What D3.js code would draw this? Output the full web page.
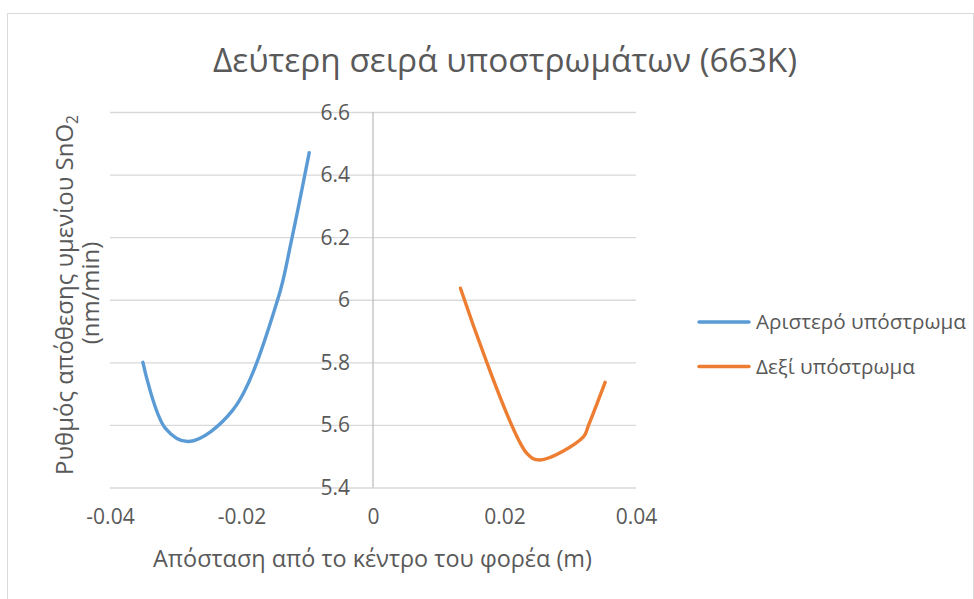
<!DOCTYPE html>
<html>
<head>
<meta charset="utf-8">
<script src="https://cdn.jsdelivr.net/npm/d3@7"></script>
<style>
  html, body { margin: 0; padding: 0; background: #ffffff; }
  svg text { font-family: "Open Sans", "Noto Sans", "DejaVu Sans", sans-serif; fill: #595959; }
</style>
</head>
<body>
<svg id="chart" width="974" height="599"></svg>
<script>
// Series: distance from the carrier centre (m) and SnO2 film deposition rate (nm/min)
const leftX  = [-0.0350, -0.0316, -0.0280, -0.0213, -0.0145, -0.0124, -0.0097];
const leftY  = [5.800, 5.590, 5.547, 5.648, 6.000, 6.190, 6.470];
const rightX = [0.0133, 0.0234, 0.0254, 0.0320, 0.0328, 0.0353];
const rightY = [6.037, 5.509, 5.488, 5.562, 5.600, 5.736];

const seriesNames = ["Αριστερό υπόστρωμα", "Δεξί υπόστρωμα"];
const seriesColors = ["#5b9bd5", "#ed7d31"];

const xTicks = [-0.04, -0.02, 0, 0.02, 0.04];
const xTickLabels = ["-0.04", "-0.02", "0", "0.02", "0.04"];
const yTicks = [5.4, 5.6, 5.8, 6.0, 6.2, 6.4, 6.6];
const yTickLabels = ["5.4", "5.6", "5.8", "6", "6.2", "6.4", "6.6"];

const titleText = "Δεύτερη σειρά υποστρωμάτων (663K)";
const xTitle = "Απόσταση από το κέντρο του φορέα (m)";
const yTitleLine1 = "Ρυθμός απόθεσης υμενίου SnO";
const yTitleSub = "2";
const yTitleLine2 = "(nm/min)";

const svg = d3.select("#chart");

// scale a text element's font so that it spans the wanted width
function fitWidth(sel, width) {
  const node = sel.node();
  const fs = parseFloat(sel.style("font-size"));
  const w = node.getComputedTextLength();
  sel.style("font-size", (fs * width / w).toFixed(2) + "px");
  return sel;
}

// outer chart frame
svg.append("rect")
  .attr("x", 7.5).attr("y", 13.5)
  .attr("width", 966).attr("height", 620)
  .attr("fill", "none").attr("stroke", "#d9d9d9").attr("stroke-width", 1);

const x = d3.scaleLinear().domain([-0.04, 0.04]).range([110, 636]);
const y = d3.scaleLinear().domain([5.4, 6.6]).range([487.5, 112]);

// horizontal gridlines
const yAxis = d3.axisLeft(y)
  .tickValues(yTicks)
  .tickSize(-(x.range()[1] - x.range()[0]))
  .tickFormat("");
const gGrid = svg.append("g").attr("transform", `translate(${x.range()[0]},0)`).call(yAxis);
gGrid.select(".domain").remove();
gGrid.selectAll(".tick line").attr("stroke", "#d9d9d9").attr("stroke-width", 1.3);

// vertical value axis at x = 0
svg.append("line")
  .attr("x1", x(0)).attr("x2", x(0))
  .attr("y1", y(6.6)).attr("y2", y(5.4))
  .attr("stroke", "#bfbfbf").attr("stroke-width", 1.3);

// y tick labels, placed next to the axis at x = 0
svg.append("g").selectAll("text")
  .data(yTicks)
  .join("text")
  .attr("x", x(0) - 23)
  .attr("y", d => y(d))
  .attr("dy", "0.36em")
  .attr("text-anchor", "end")
  .style("font-size", "21px")
  .text((d, i) => yTickLabels[i]);

// x tick labels along the bottom
const xAxis = d3.axisBottom(x)
  .tickValues(xTicks)
  .tickSize(0)
  .tickPadding(22)
  .tickFormat((d, i) => xTickLabels[i]);
const gX = svg.append("g").attr("transform", `translate(0,${y(5.4)})`).call(xAxis);
gX.attr("font-size", null).attr("font-family", null);
gX.select(".domain").remove();
gX.selectAll("text")
  .style("font-size", "21px")
  .attr("fill", "#595959");

// data lines (smoothed)
const line = d3.line()
  .x(d => x(d[0]))
  .y(d => y(d[1]))
  .curve(d3.curveCatmullRom.alpha(0.5));

const series = [
  d3.zip(leftX, leftY),
  d3.zip(rightX, rightY)
];

svg.append("g").selectAll("path")
  .data(series)
  .join("path")
  .attr("d", line)
  .attr("fill", "none")
  .attr("stroke", (d, i) => seriesColors[i])
  .attr("stroke-width", 3.4)
  .attr("stroke-linecap", "round")
  .attr("stroke-linejoin", "round");

// title
fitWidth(svg.append("text")
  .attr("x", 505).attr("y", 72)
  .attr("text-anchor", "middle")
  .style("font-size", "28px")
  .text(titleText), 584);

// x axis title
fitWidth(svg.append("text")
  .attr("x", 372.5).attr("y", 566.5)
  .attr("text-anchor", "middle")
  .style("font-size", "20px")
  .text(xTitle), 439);

// y axis title, two rotated lines
const yt1 = svg.append("text")
  .attr("transform", "translate(73,295) rotate(-90)")
  .attr("text-anchor", "middle")
  .style("font-size", "20px");
yt1.append("tspan").text(yTitleLine1);
yt1.append("tspan").attr("dy", "0.3em").style("font-size", "13px").text(yTitleSub);
const yScaleFactor = 360 / yt1.node().getComputedTextLength();
yt1.style("font-size", (20 * yScaleFactor).toFixed(2) + "px");
yt1.select("tspan:nth-child(2)").style("font-size", (13 * yScaleFactor).toFixed(2) + "px");
svg.append("text")
  .attr("transform", "translate(99,293) rotate(-90)")
  .attr("text-anchor", "middle")
  .style("font-size", (20 * yScaleFactor).toFixed(2) + "px")
  .text(yTitleLine2);

// legend
const legendY = [322, 366.5];
const legendW = [210, 159];
const lg = svg.append("g");
seriesNames.forEach((name, i) => {
  lg.append("line")
    .attr("x1", 699).attr("x2", 749)
    .attr("y1", legendY[i]).attr("y2", legendY[i])
    .attr("stroke", seriesColors[i])
    .attr("stroke-width", 3.4)
    .attr("stroke-linecap", "round");
  fitWidth(lg.append("text")
    .attr("x", 756).attr("y", legendY[i])
    .attr("dy", "0.36em")
    .style("font-size", "17px")
    .text(name), legendW[i]);
});
</script>
</body>
</html>
